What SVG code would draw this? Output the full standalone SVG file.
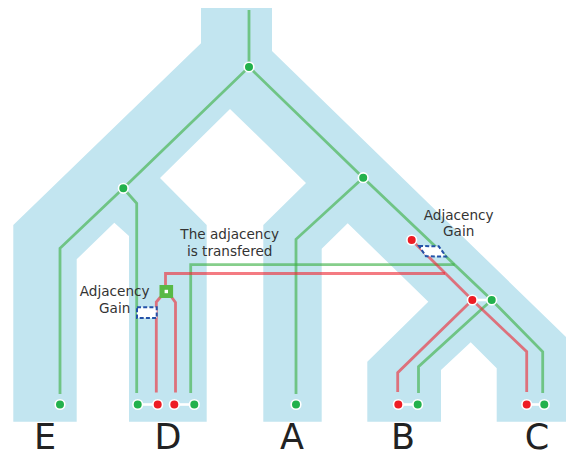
<svg xmlns="http://www.w3.org/2000/svg" width="566" height="450" viewBox="0 0 566 450">
  <style>
    .species { fill: #c2e5f0; stroke: none; }
    .g { fill: none; stroke: #3cb043; stroke-opacity: 0.62; stroke-width: 2.8; stroke-linejoin: miter; }
    .r { fill: none; stroke: #ee2a36; stroke-opacity: 0.62; stroke-width: 2.8; stroke-linejoin: miter; }
    .gd { fill: #22b14c; stroke: #ffffff; stroke-width: 1.6; }
    .rd { fill: #ed1c24; stroke: #ffffff; stroke-width: 1.6; }
    .link { stroke: #ffffff; stroke-width: 2.6; }
    .gain { fill: #ffffff; stroke: #2452a8; stroke-width: 2; stroke-dasharray: 4 2.2; }
    .lbl { font-family: "DejaVu Sans", sans-serif; font-size: 13.6px; fill: #333333; text-anchor: middle; }
    .leaf { font-family: "DejaVu Sans", sans-serif; font-size: 35px; fill: #222222; text-anchor: middle; }
  </style>

  <g id="species-tree">
    <polygon class="species" points="201,8 272,8 272,51 570,341 570,421.7 496.7,421.7 496.7,368.3 470.7,342.3 441,370 441,421.7 367.3,421.7 367.3,361.7 428.3,301.7 347.7,223.3 321.7,248.7 321.7,421.7 263.3,421.7 263.3,225 306,183 230,109 160,178 206.7,225 206.7,421.7 129,421.7 129,236 114.3,222.7 76.7,259.3 76.7,421.7 13.3,421.7 13.3,225 201,43.3"/>
  </g>

  <g id="connectors">
    <path class="g" d="M249,10 V67 L123.3,188.3 L60,248.3 V394"/>
    <path class="g" d="M123.3,188.3 L136.7,203.3 V393"/>
    <path class="g" d="M249,67 L363.2,177.7 L491.7,300 L542.7,351.7 V393"/>
    <path class="g" d="M363.2,177.7 L296,239.3 V394"/>
    <path class="g" d="M491.7,300 L418.5,366.7 V393"/>
    <path class="g" d="M454.6,264.7 H190.7 V393"/>
    <path class="r" d="M411.7,240 L472.3,300 L526.7,351.7 V392"/>
    <path class="r" d="M472.3,300 L397.7,372.7 V392"/>
    <path class="r" d="M445,273.5 H165.5 V286"/>
    <path class="r" d="M160.5,297 L156.3,302 V392.5"/>
    <path class="r" d="M171.5,297 L175.5,302.5 V392.5"/>
  </g>

  <g id="gain-left">
    <rect class="gain" x="137" y="307.3" width="19.7" height="10.7"/>
  </g>
  <g id="gain-right">
    <polygon class="gain" points="419,246 438.7,246.3 446,256.5 426,256.3"/>
  </g>

  <g id="transfer-box">
    <rect x="159.5" y="285" width="13.6" height="13" fill="#58b946"/>
    <rect x="164.6" y="289.8" width="3.4" height="3.4" fill="#ffffff"/>
  </g>

  <g id="internal-nodes">
    <circle class="gd" cx="249" cy="67" r="4.8"/>
    <circle class="gd" cx="123.3" cy="188.3" r="4.8"/>
    <circle class="gd" cx="363.2" cy="177.7" r="4.8"/>
    <circle class="rd" cx="411.7" cy="240" r="4.8"/>
    <line class="link" x1="472.3" y1="300" x2="491.7" y2="300"/>
    <circle class="rd" cx="472.3" cy="300" r="4.8"/>
    <circle class="gd" cx="491.7" cy="300" r="4.8"/>
  </g>

  <g id="leaf-E">
    <circle class="gd" cx="60" cy="404.5" r="4.8"/>
    <text class="leaf" x="45" y="449">E</text>
  </g>
  <g id="leaf-D">
    <line class="link" x1="137.7" y1="404.5" x2="157.7" y2="404.5"/>
    <line class="link" x1="174.3" y1="404.5" x2="194.3" y2="404.5"/>
    <circle class="gd" cx="137.7" cy="404.5" r="4.8"/>
    <circle class="rd" cx="157.7" cy="404.5" r="4.8"/>
    <circle class="rd" cx="174.3" cy="404.5" r="4.8"/>
    <circle class="gd" cx="194.3" cy="404.5" r="4.8"/>
    <text class="leaf" x="168" y="449">D</text>
  </g>
  <g id="leaf-A">
    <circle class="gd" cx="296" cy="404.5" r="4.8"/>
    <text class="leaf" x="292" y="449">A</text>
  </g>
  <g id="leaf-B">
    <line class="link" x1="398.3" y1="404.5" x2="417.7" y2="404.5"/>
    <circle class="rd" cx="398.3" cy="404.5" r="4.8"/>
    <circle class="gd" cx="417.7" cy="404.5" r="4.8"/>
    <text class="leaf" x="403" y="449">B</text>
  </g>
  <g id="leaf-C">
    <line class="link" x1="526.7" y1="404.5" x2="544.3" y2="404.5"/>
    <circle class="rd" cx="526.7" cy="404.5" r="4.8"/>
    <circle class="gd" cx="544.3" cy="404.5" r="4.8"/>
    <text class="leaf" x="537" y="449">C</text>
  </g>

  <g id="labels">
    <text class="lbl" x="458.7" y="219.5">Adjacency</text>
    <text class="lbl" x="458.7" y="235.5">Gain</text>
    <text class="lbl" x="229.7" y="239.2">The adjacency</text>
    <text class="lbl" x="229.7" y="255.6">is transfered</text>
    <text class="lbl" x="114.7" y="296">Adjacency</text>
    <text class="lbl" x="114.7" y="312.6">Gain</text>
  </g>
</svg>
